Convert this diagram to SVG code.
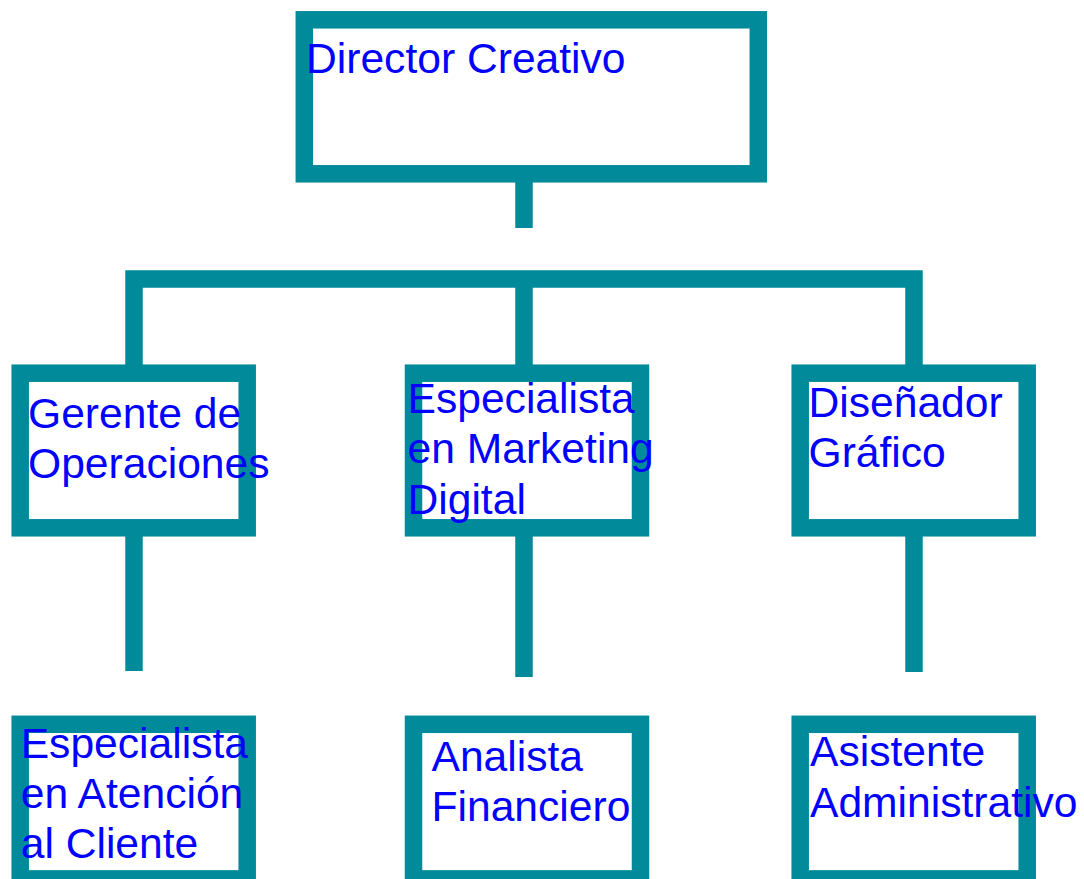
<svg xmlns="http://www.w3.org/2000/svg" width="1084" height="879" viewBox="0 0 1084 879">
<style>
.box{fill:#ffffff;stroke:#018a9a;stroke-width:17.5}
.conn{fill:none;stroke:#018a9a;stroke-width:17.5;stroke-linecap:butt;stroke-linejoin:miter}
.lbl{font-family:"Liberation Sans",Arial,sans-serif;font-size:42.6px;fill:#0000ff}
</style>
<rect width="1084" height="879" fill="#ffffff"/>
<g id="connectors">
<path class="conn" d="M524 174 V228"/>
<path class="conn" d="M134 373 V279 H914 V373"/>
<path class="conn" d="M524 279 V373"/>
<path class="conn" d="M134 528 V671"/>
<path class="conn" d="M524 528 V677"/>
<path class="conn" d="M914 528 V672"/>
</g>
<g id="director">
<rect class="box" x="304.3" y="19.8" width="454" height="154"/>
<text class="lbl" x="306" y="72.7">Director Creativo</text>
</g>
<g id="gerente">
<rect class="box" x="20.2" y="373.2" width="227" height="154.6"/>
<text class="lbl"><tspan x="28" y="428.3">Gerente de</tspan><tspan x="28" y="478.3">Operaciones</tspan></text>
</g>
<g id="marketing">
<rect class="box" x="413.5" y="373.2" width="227" height="154.6"/>
<text class="lbl"><tspan x="407.5" y="413.3">Especialista</tspan><tspan x="407.5" y="463.3">en Marketing</tspan><tspan x="407.5" y="513.8">Digital</tspan></text>
</g>
<g id="disenador">
<rect class="box" x="800.2" y="373.2" width="227" height="154.6"/>
<text class="lbl"><tspan x="808.5" y="417.3">Diseñador</tspan><tspan x="808.5" y="467.3">Gráfico</tspan></text>
</g>
<g id="atencion">
<rect class="box" x="20.2" y="724.3" width="227" height="154.6"/>
<text class="lbl"><tspan x="20.7" y="758.3">Especialista</tspan><tspan x="20.7" y="808.3">en Atención</tspan><tspan x="20.7" y="858.3">al Cliente</tspan></text>
</g>
<g id="analista">
<rect class="box" x="413.5" y="724.3" width="227" height="154.6"/>
<text class="lbl"><tspan x="431.5" y="770.7">Analista</tspan><tspan x="431.5" y="820.5">Financiero</tspan></text>
</g>
<g id="asistente">
<rect class="box" x="800.2" y="724.3" width="227" height="154.6"/>
<text class="lbl"><tspan x="810" y="765.7">Asistente</tspan><tspan x="810" y="816.5">Administrativo</tspan></text>
</g>
</svg>
